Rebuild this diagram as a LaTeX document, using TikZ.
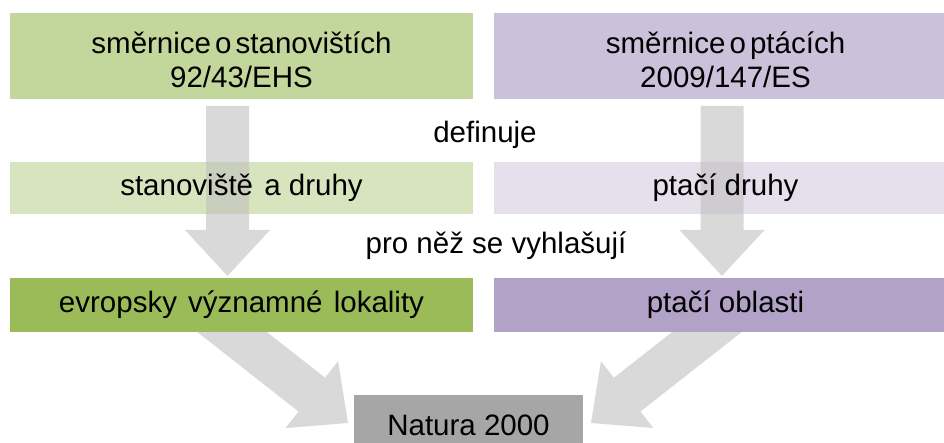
\documentclass[tikz,border=0pt]{standalone}
\usepackage{fontspec}
\setmainfont{Liberation Sans}
\usetikzlibrary{calc}
\definecolor{gA}{HTML}{C3D69B}
\definecolor{gB}{HTML}{D7E4BD}
\definecolor{gC}{HTML}{9BBB59}
\definecolor{pA}{HTML}{CCC1DA}
\definecolor{pB}{HTML}{E5E0EC}
\definecolor{pC}{HTML}{B3A2C7}
\definecolor{nat}{HTML}{A6A6A6}
\definecolor{arr}{HTML}{C0C0C0}
\tikzset{
  box/.style={rectangle, inner sep=0pt, minimum width=463pt, align=center, text=black},
  arrowfill/.style={fill=arr, fill opacity=0.6},
  lbl/.style={inner sep=0pt, text=black, align=center}
}
\newcommand\fatarr[2]{%
  \path ($(#2)!46pt!(#1)$) coordinate (hb);
  \fill[arrowfill] ($(#1)!21.5pt!90:(#2)$) -- ($(hb)!21.5pt!90:(#2)$) -- ($(hb)!42.5pt!90:(#2)$) -- (#2) -- ($(hb)!42.5pt!-90:(#2)$) -- ($(hb)!21.5pt!-90:(#2)$) -- ($(#1)!21.5pt!-90:(#2)$) -- cycle;}
\newcommand\nsp{\hspace{0.14em}}
\newcommand\wsp{\ \hspace{3pt}}
\begin{document}
\begin{tikzpicture}[x=1pt,y=-1pt,font=\fontsize{29.5}{34}\selectfont]
\clip (0,0) rectangle (944,443);
\useasboundingbox (0,0) rectangle (944,443);
% row 1
\node[box, fill=gA, minimum height=86pt] (hab) at (241.5,56) {};
\node[box, fill=pA, minimum height=86pt] (bird) at (725.5,56) {};
\node[lbl] (habt) at ($(hab.center)+(0,4)$) {směrnice\nsp o\nsp stanovištích\\92/43/EHS};
\node[lbl] (birdt) at ($(bird.center)+(0,4)$) {směrnice\nsp o\nsp ptácích\\2009/147/ES};
% row 2
\node[box, fill=gB, minimum height=52pt] (hs) at (241.5,188) {};
\node[box, fill=pB, minimum height=52pt] (bs) at (725.5,188) {};
% down arrows
\coordinate (la0) at (227.5,106);
\coordinate (la1) at (227.5,276);
\coordinate (ra0) at (722,106);
\coordinate (ra1) at (722,276);
\fatarr{la0}{la1}
\fatarr{ra0}{ra1}
\node[lbl] (hst) at (hs.center) {stanoviště\wsp a druhy};
\node[lbl] (bst) at (bs.center) {ptačí druhy};
\node[lbl] (def) at (485,135) {definuje};
\node[lbl] (pro) at (496,246) {pro něž se vyhlašují};
% diagonal arrows
\coordinate (ld0) at (204,310);
\coordinate (ld1) at (348,423);
\coordinate (rd0) at (735,310);
\coordinate (rd1) at (591,423);
\fatarr{ld0}{ld1}
\fatarr{rd0}{rd1}
% row 3
\node[box, fill=gC, minimum height=54pt] (evl) at (241.5,305) {evropsky\wsp významné\wsp lokality};
\node[box, fill=pC, minimum height=54pt] (po) at (725.5,305) {ptačí oblasti};
% Natura
\node[box, fill=nat, minimum width=229pt, minimum height=60pt] (n2k) at (468.5,425) {Natura 2000};
\end{tikzpicture}
\end{document}
